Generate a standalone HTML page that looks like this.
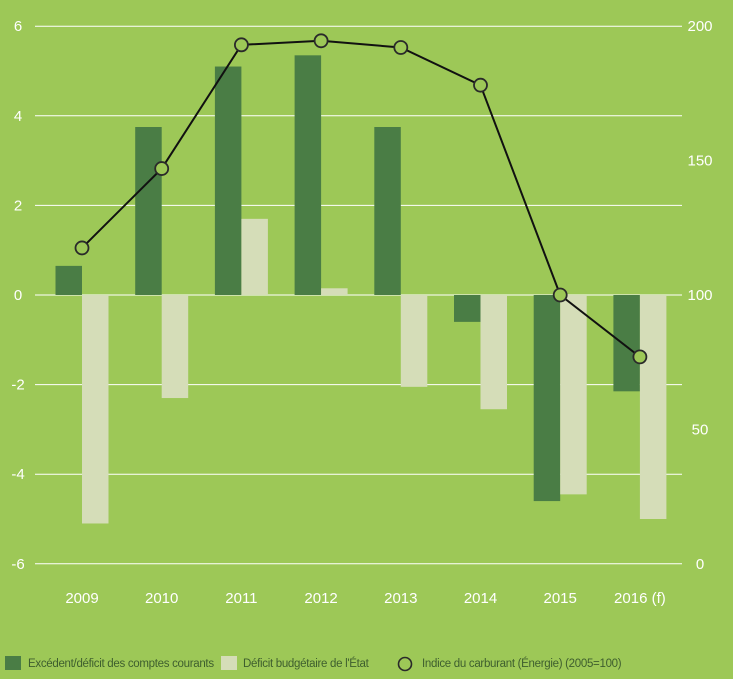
<!DOCTYPE html>
<html><head><meta charset="utf-8"><style>
html,body{margin:0;padding:0;background:#9DC857;}
svg{display:block;font-family:"Liberation Sans",sans-serif;}
</style></head><body>
<svg id="chart" width="733" height="679">
<rect width="733" height="679" fill="#9DC857"/>
<g id="grid"></g><g id="bars"></g><g id="line"></g><g id="axes"></g>
<g font-size="11.5" fill="#3E5E2E">
<rect x="5" y="656" width="16" height="14" fill="#4A7D45"/>
<text x="28" y="667" letter-spacing="-0.3">Excédent/déficit des comptes courants</text>
<rect x="221" y="656" width="16" height="14" fill="#D5DDB8"/>
<text x="243" y="667" letter-spacing="-0.3">Déficit budgétaire de l'État</text>
<circle cx="405" cy="664" r="6.5" fill="none" stroke="#2a2a2a" stroke-width="1.6"/>
<text x="422" y="667" letter-spacing="-0.3">Indice du carburant (Énergie) (2005=100)</text>
</g>
</svg>
<script>
const categories=["2009","2010","2011","2012","2013","2014","2015","2016 (f)"];
const currentAccount=[0.65,3.75,5.1,5.35,3.75,-0.6,-4.6,-2.15];
const budgetDeficit=[-5.1,-2.3,1.7,0.15,-2.05,-2.55,-4.45,-5.0];
const fuelIndex=[117.5,147,193,194.5,192,178,100,77];
const leftTicks=[6,4,2,0,-2,-4,-6];
const rightTicks=[200,150,100,50,0];
const NS="http://www.w3.org/2000/svg";
function yL(v){return 295-v*44.8;}
function yR(v){return 564-v*2.69;}
function xC(i){return 82+i*79.7;}
function mk(tag,attrs,parent){const e=document.createElementNS(NS,tag);for(const k in attrs)e.setAttribute(k,attrs[k]);parent.appendChild(e);return e;}
const grid=document.getElementById('grid'),bars=document.getElementById('bars'),line=document.getElementById('line'),axes=document.getElementById('axes');
leftTicks.forEach(t=>{
 const l=mk('line',{x1:35,x2:682,y1:yL(t),y2:yL(t),stroke:'#fff','stroke-width':1},grid);
 
 
 const tx=mk('text',{x:18,y:yL(t)+5,'text-anchor':'middle',fill:'#fff','font-size':15},axes);
 tx.textContent=t;
 
 
});
rightTicks.forEach(t=>{
 const tx=mk('text',{x:700,y:yR(t)+5,'text-anchor':'middle',fill:'#fff','font-size':15},axes);
 tx.textContent=t;
 
 
});
const bw=26.5;
categories.forEach((c,i)=>{
 const x=xC(i);
 const a=currentAccount[i],b=budgetDeficit[i];
 const r1=mk('rect',{x:x-bw,y:Math.min(yL(a),yL(0)),width:bw,height:Math.abs(yL(a)-yL(0)),fill:'#4A7D45'},bars);
 
 
 const r2=mk('rect',{x:x,y:Math.min(yL(b),yL(0)),width:bw,height:Math.abs(yL(b)-yL(0)),fill:'#D5DDB8'},bars);
 
 
 const tx=mk('text',{x:x,y:603,'text-anchor':'middle',fill:'#fff','font-size':15},axes);
 tx.textContent=c;
 
 
});
const pts=fuelIndex.map((v,i)=>xC(i)+','+yR(v)).join(' ');
const pl=mk('polyline',{points:pts,fill:'none',stroke:'#111','stroke-width':2},line);


fuelIndex.forEach((v,i)=>{
 const c=mk('circle',{cx:xC(i),cy:yR(v),r:6.5,fill:'#9DC857',stroke:'#2a2a2a','stroke-width':1.8},line);
 
 
});
</script>
</body></html>
